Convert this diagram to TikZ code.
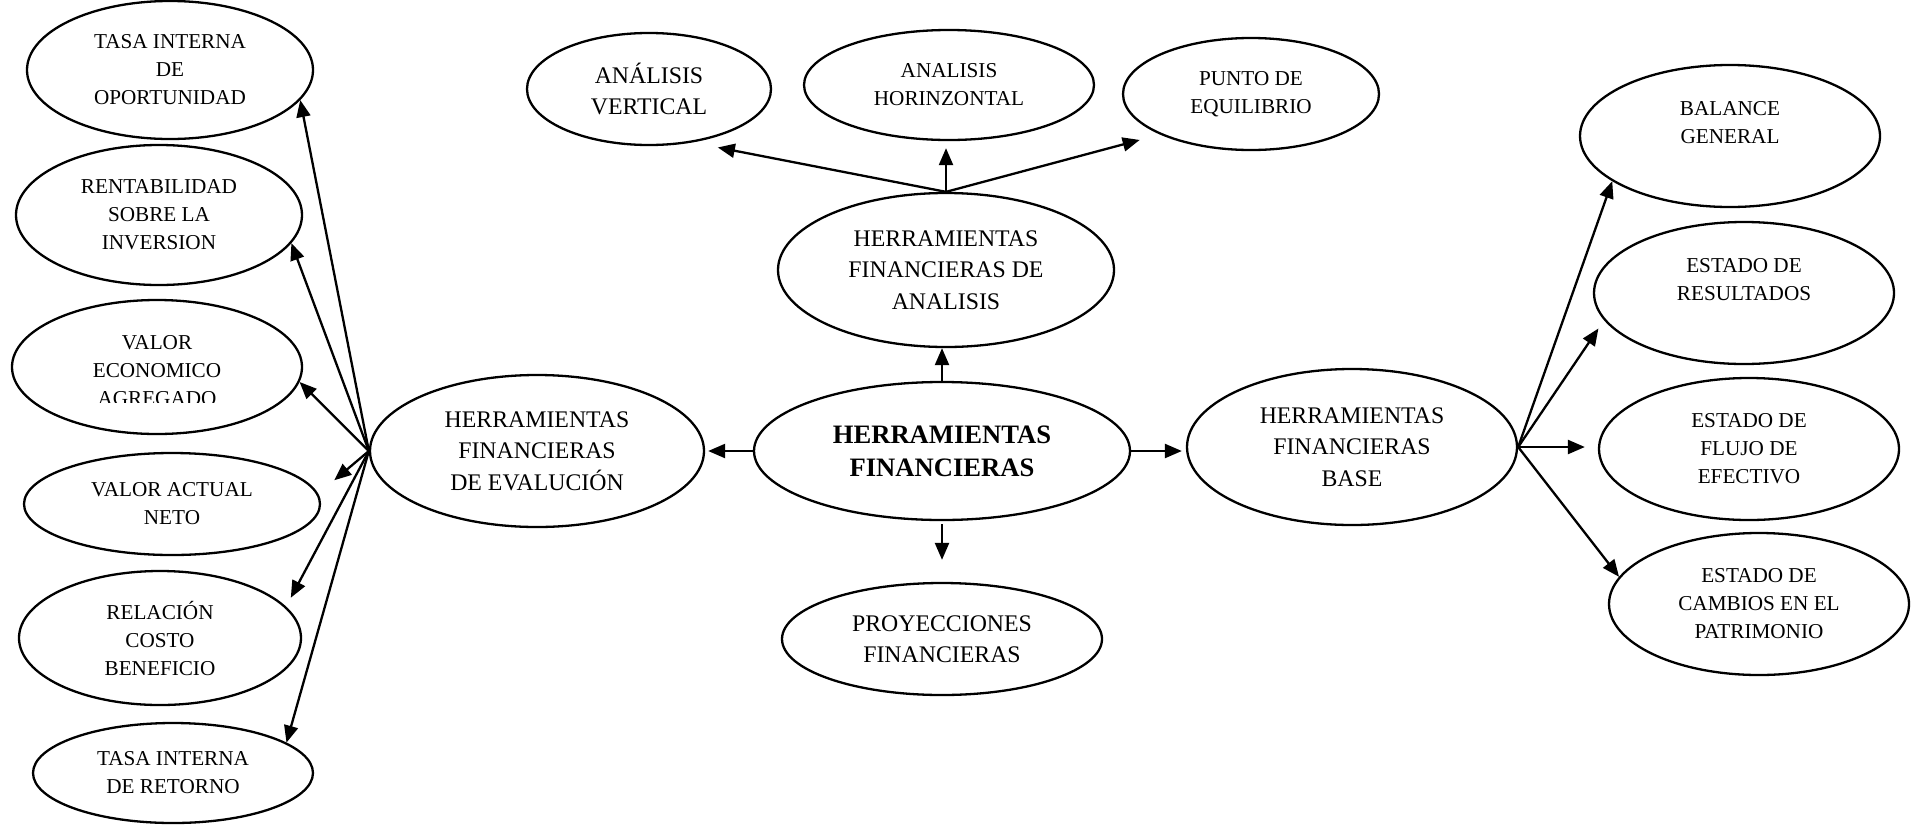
\documentclass[tikz,border=0pt]{standalone}
\usepackage{fontspec}
\setmainfont{Liberation Serif}
\usetikzlibrary{shapes.geometric,arrows.meta}
\begin{document}
\begin{tikzpicture}[x=0.5pt,y=-0.5pt,
  ov/.style 2 args={ellipse, draw, line width=1.15pt, inner sep=0pt, align=center,
                    minimum width=#1, minimum height=#2},
  sm/.style={font=\fontsize{10.6}{14}\selectfont},
  md/.style={font=\fontsize{11.9}{15.75}\selectfont},
  bd/.style={font=\fontsize{13.3}{16.5}\selectfont\bfseries},
  arr/.style={line width=1.15pt, -{Triangle[length=8.5pt,width=7pt]}}]
\useasboundingbox (0,0) rectangle (1915,825);

% centre
\node[ov={188pt}{69pt}, bd] (central) at (942,451) {HERRAMIENTAS\\FINANCIERAS};

% evaluation branch
\node[ov={167pt}{76pt}, md] (eval) at (537,451) {HERRAMIENTAS\\FINANCIERAS\\DE EVALUCIÓN};
\node[ov={143pt}{69pt}, sm] (tio) at (170,70) {TASA INTERNA\\DE\\OPORTUNIDAD};
\node[ov={143pt}{70pt}, sm] (rsi) at (159,215) {RENTABILIDAD\\SOBRE LA\\INVERSION};
\node[ov={145pt}{67pt}] (vea) at (157,367) {};
\begin{scope}
  \clip (0,300) rectangle (400,402);
  \node[sm, align=center, inner sep=0pt] (veatxt) at (157,371) {VALOR\\ECONOMICO\\AGREGADO};
\end{scope}
\node[ov={148pt}{51pt}, sm] (van) at (172,504) {VALOR ACTUAL\\NETO};
\node[ov={141pt}{67pt}, sm] (rcb) at (160,638) {RELACIÓN\\COSTO\\BENEFICIO};
\node[ov={140pt}{50pt}, sm] (tir) at (173,773) {TASA INTERNA\\DE RETORNO};

% analysis branch
\node[ov={168pt}{77pt}, md] (hfa) at (946,270) {HERRAMIENTAS\\FINANCIERAS DE\\ANALISIS};
\node[ov={122pt}{56pt}, md] (av) at (649,89) {ANÁLISIS\\VERTICAL};
\node[ov={145pt}{55pt}, sm] (ah) at (949,85) {ANALISIS\\HORINZONTAL};
\node[ov={128pt}{56pt}, sm] (pe) at (1251,94) {PUNTO DE\\EQUILIBRIO};

% projections
\node[ov={160pt}{56pt}, md] (proy) at (942,639) {PROYECCIONES\\FINANCIERAS};

% base branch
\node[ov={165pt}{78pt}, md] (base) at (1352,447) {HERRAMIENTAS\\FINANCIERAS\\BASE};
\node[ov={150pt}{71pt}, sm] (bg) at (1730,136) {BALANCE\\GENERAL\\\mbox{}};
\node[ov={150pt}{71pt}, sm] (er) at (1744,293) {ESTADO DE\\RESULTADOS\\\mbox{}};
\node[ov={150pt}{71pt}, sm] (efe) at (1749,449) {ESTADO DE\\FLUJO DE\\EFECTIVO};
\node[ov={150pt}{71pt}, sm] (ecp) at (1759,604) {ESTADO DE\\CAMBIOS EN EL\\PATRIMONIO};

% connectors from the centre
\draw[arr, shorten >=1.5pt] (central.west) -- (eval.east);
\draw[arr, shorten >=2pt] (central.east) -- (central.east -| base.west);
\draw[arr] (central.north) -- (central.north |- hfa.south);
\draw[arr, shorten <=1.5pt, shorten >=11pt] (central.south) -- (central.south |- proy.north);

% evaluation fan
\draw[arr] (eval.west) -- (tio.-13);
\draw[arr] (eval.west) -- (rsi.-12);
\draw[arr] (eval.west) -- (vea.-6);
\draw[arr, shorten >=10.5pt] (eval.west) -- (van.4);
\draw[arr, shorten >=5pt] (eval.west) -- (rcb.14);
\draw[arr] (eval.west) -- (tir.15);

% analysis fan
\draw[arr, shorten >=13pt] (hfa.north) -- (av.-51);
\draw[arr, shorten >=3.5pt] (hfa.north) -- (hfa.north |- ah.south);
\draw[arr, shorten >=10.5pt] (hfa.north) -- (pe.204);

% base fan
\draw[arr] (base.east) -- (bg.201);
\draw[arr, shorten >=5pt] (base.east) -- (er.191);
\draw[arr, shorten >=6.5pt] (base.east) -- (base.east -| efe.west);
\draw[arr] (base.east) -- (ecp.169);
\end{tikzpicture}
\end{document}
